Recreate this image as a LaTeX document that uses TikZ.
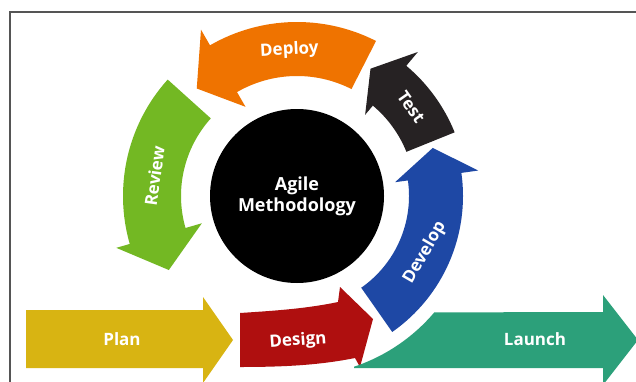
\documentclass[tikz,border=0pt]{standalone}
\usepackage{fontspec}
\setmainfont{Open Sans}
\definecolor{cOrange}{HTML}{EF7300}
\definecolor{cBlack}{HTML}{262223}
\definecolor{cBlue}{HTML}{1E48A5}
\definecolor{cGreen}{HTML}{73B823}
\definecolor{cRed}{HTML}{AF0F0F}
\definecolor{cYellow}{HTML}{D8B412}
\definecolor{cTeal}{HTML}{2CA07A}
\definecolor{cFrame}{HTML}{555555}
\tikzset{
  lbl/.style={text=white, font=\bfseries\fontsize{17}{20}\selectfont, inner sep=0pt},
  hub/.style={circle, fill=black, minimum size=174pt, inner sep=0pt, text=white,
              align=center, font=\bfseries\fontsize{18}{21}\selectfont},
  frameline/.style={draw=cFrame, line width=2pt}
}
% #1 colour, #2 r_in, #3 r_out, #4 tail angle, #5 head-base angle,
% #6 inner barb r, #7 outer barb r, #8 tip angle, #9 tip r
\newcommand\ringarrow[9]{%
  \fill[#1] (#4:#3) arc[start angle=#4, end angle=#5, radius=#3pt]
    -- (#5:#7) -- (#8:#9) -- (#5:#6) -- (#5:#2)
    arc[start angle=#5, end angle=#4, radius=#2pt] -- cycle;}
\begin{document}
\begin{tikzpicture}[x=1pt, y=1pt]
\useasboundingbox (0,0) rectangle (636,381);
\clip (0,0) rectangle (636,381);
\fill[white] (0,0) rectangle (636,381);
\draw[frameline] (10,-10) -- (10,369) -- (660,369);

% ring arrows around the hub
\begin{scope}[shift={(297,185)}]
  \ringarrow{cOrange}{120}{174}{63}{120}{103}{192}{133}{147}
  \ringarrow{cBlack}{118}{170}{22}{50}{106}{188}{60}{147}
  \ringarrow{cBlue}{112}{166}{-55}{8}{99}{183}{19.5}{144}
  \ringarrow{cGreen}{116}{174}{138}{196}{99}{188}{210}{148}
  \node[lbl, rotate=3]   (deploy)  at (93:146)  {Deploy};
  \node[lbl, rotate=-55] (test)    at (38:145)  {Test};
  \node[lbl, rotate=60]  (develop) at (-24:140) {Develop};
  \node[lbl, rotate=82]  (review)  at (172:144) {Review};
\end{scope}

\node[hub] (hub) at (297,185) {Agile\\Methodology};

% Plan
\fill[cYellow] (26,71) -- (203,71) -- (203,84) -- (233,41) -- (203,-2)
  -- (203,13) -- (26,13) -- cycle;
\node[lbl] (plan) at (122,42) {Plan};

% Design
\fill[cRed] (240,68) .. controls (270,70) and (305,72) .. (338,79)
  -- (340,94) -- (373,62) -- (360,14) -- (355,23)
  .. controls (320,16) and (285,14) .. (240,14) -- cycle;
\node[lbl, rotate=4] (design) at (298,40) {Design};

% Launch
\begin{scope}[shift={(297,185)}]
  \fill[cTeal] (57,-172) -- (306,-172) -- (306,-189) -- (341,-144)
    -- (306,-99) -- (306,-116) -- (-40.3:180)
    arc[start angle=-40.3, end angle=-71.5, radius=180pt] -- cycle;
\end{scope}
\node[lbl] (launch) at (535,42) {Launch};
\end{tikzpicture}
\end{document}
